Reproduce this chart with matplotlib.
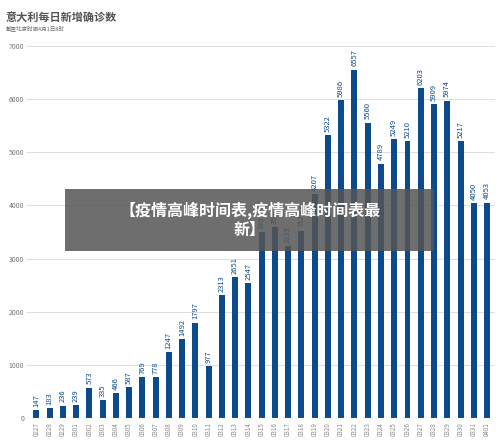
import matplotlib
matplotlib.use("Agg")
import matplotlib.pyplot as plt
from matplotlib.patches import Rectangle

plt.rcParams['font.family'] = ['Noto Sans CJK SC', 'DejaVu Sans']

dates = ['0227','0228','0229','0301','0302','0303','0304','0305','0306','0307','0308','0309','0310',
         '0311','0312','0313','0314','0315','0316','0317','0318','0319','0320','0321','0322','0323',
         '0324','0325','0326','0327','0328','0329','0330','0331','0401']
values = [147,183,236,239,573,335,466,587,769,778,1247,1492,1797,977,2313,2651,2547,3497,3590,3233,
          3526,4207,5322,5986,6557,5560,4789,5249,5210,6203,5909,5974,5217,4050,4053]

fig = plt.figure(figsize=(5.0, 4.42), dpi=100)
ax = fig.add_axes([0.054, 0.054, 0.936, 0.842])
x = range(len(values))
ax.bar(x, values, width=0.45, color='#0c4a8c', zorder=2)
for i, v in zip(x, values):
    ax.text(i, v + 60, str(v), rotation=90, ha='center', va='bottom', fontsize=5.5, color='#0c4a8c')
ax.set_xlim(-0.7, len(values) - 0.4)
ax.set_ylim(0, 7000)
ax.set_yticks(range(0, 7001, 1000))
ax.tick_params(axis='y', labelsize=5, colors='#777777', length=0, pad=2)
ax.set_xticks(list(x))
ax.set_xticklabels(dates, rotation=90, fontsize=4.5, color='#888888')
ax.tick_params(axis='x', length=0, pad=3)
ax.grid(axis='y', color='#dddddd', linewidth=0.7, zorder=0)
for s in ax.spines.values():
    s.set_visible(False)
ax.axhline(0, color='#bbbbbb', linewidth=0.8)

fig.text(0.012, 0.975, '意大利每日新增确诊数', fontsize=8, fontweight='bold', color='#555555', va='top')
fig.text(0.012, 0.943, '截至北京时间4月1日8时', fontsize=4, color='#666666', va='top')

fig.patches.append(Rectangle((0.13, 0.433), 0.737, 0.14, transform=fig.transFigure,
                             facecolor='#555555', alpha=0.85, zorder=5))
fig.text(0.5, 0.503, '【疫情高峰时间表,疫情高峰时间表最\n新】', fontsize=11.5, fontweight='bold',
         color='white', ha='center', va='center', zorder=6, linespacing=1.3)

fig.savefig('out.png', dpi=100)
